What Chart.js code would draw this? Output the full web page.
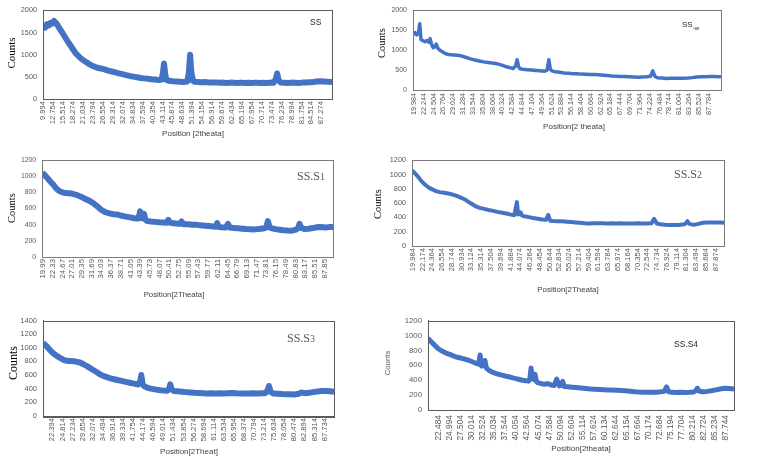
<!DOCTYPE html>
<html>
<head>
<meta charset="utf-8">
<script src="https://cdn.jsdelivr.net/npm/chart.js@4.4.1/dist/chart.umd.min.js"></script>
<style>
html,body{margin:0;padding:0;background:#ffffff;}
#wrap{position:relative;width:772px;height:464px;overflow:hidden;background:#ffffff;}
#wrap canvas{position:absolute;}
</style>
</head>
<body>
<div id="wrap">
<canvas id="p1"></canvas>
<canvas id="p2"></canvas>
<canvas id="p3"></canvas>
<canvas id="p4"></canvas>
<canvas id="p5"></canvas>
<canvas id="p6"></canvas>
</div>
<script>
// ---------- Panel SS ----------
const ssX = [
  9.9, 10.5, 11, 11.5, 12, 12.5, 13, 13.5, 14, 14.5,
  15, 16, 17, 18, 19, 20, 21, 22, 23, 24,
  25, 26, 27, 28, 29, 30, 31, 32, 33, 34,
  35, 36, 37, 38, 39, 40, 41, 42, 42.9, 43.25,
  43.55, 43.85, 44.2, 45, 46, 47, 48, 49, 50, 50.45,
  50.8, 51.15, 51.6, 52, 53, 54, 55, 56, 57, 58,
  59, 60, 61, 62, 63, 64, 65, 66, 67, 68,
  69, 70, 71, 72, 73, 74, 74.6, 75, 75.4, 76,
  77, 78, 79, 80, 81, 82, 83, 84, 85, 86,
  87, 88, 89, 90.25
];
const ssY = [
  1650, 1610, 1690, 1660, 1720, 1700, 1760, 1720, 1660, 1590,
  1530, 1400, 1270, 1150, 1030, 950, 880, 830, 775, 735,
  705, 690, 670, 640, 620, 600, 580, 560, 540, 520,
  505, 490, 475, 465, 455, 445, 440, 430, 440, 600,
  800, 580, 430, 410, 400, 395, 390, 385, 395, 600,
  1000, 600, 410, 390, 385, 380, 385, 375, 370, 375,
  365, 370, 360, 370, 365, 360, 370, 360, 365, 360,
  370, 360, 365, 360, 370, 365, 440, 575, 430, 370,
  365, 360, 370, 365, 360, 370, 375, 380, 385, 395,
  400, 395, 390, 385
];
const ssTicks = ['9.994','12.754','15.514','18.274','21.034','23.794','26.554','29.314','32.074','34.834','37.594','40.354','43.114','45.874','48.634','51.394','54.154','56.914','59.674','62.434','65.194','67.954','70.714','73.474','76.234','78.994','81.754','84.514','87.274'];

// ---------- Panel SS-w ----------
const swX = [
  19.8, 20.2, 20.6, 21, 21.3, 21.6, 22, 22.5, 23, 23.4,
  23.7, 24, 24.4, 24.8, 25.1, 25.5, 26, 26.5, 27, 27.5,
  28, 29, 30, 31, 32, 33, 34, 35, 36, 37,
  38, 39, 40, 41, 42, 42.8, 43.35, 43.7, 44.05, 44.4,
  45, 46, 47, 48, 49, 50, 50.6, 51, 51.35, 51.7,
  52.5, 53.5, 54.5, 55.5, 56.5, 57.5, 58.5, 59.5, 60.5, 61.5,
  62.5, 63.5, 64.5, 65.5, 66.5, 67.5, 68.5, 69.5, 70.5, 71.5,
  72.5, 73.5, 74.4, 74.9, 75.4, 76, 77, 78, 79, 80,
  81, 82, 83, 84, 85, 86, 87, 88, 89, 90,
  90.6
];
const swY = [
  1400, 1440, 1380, 1420, 1660, 1260, 1240, 1210, 1240, 1200,
  1290, 1150, 1060, 1080, 1150, 1040, 990, 960, 925, 900,
  890, 880, 870, 850, 815, 780, 750, 725, 705, 690,
  675, 660, 630, 590, 560, 540, 600, 760, 580, 530,
  520, 510, 500, 490, 480, 470, 500, 760, 520, 480,
  455, 445, 428, 422, 408, 407, 398, 396, 388, 386,
  380, 370, 362, 350, 346, 340, 336, 330, 326, 322,
  325, 330, 345, 480, 340, 305, 300, 290, 292, 295,
  296, 294, 300, 310, 325, 330, 335, 340, 338, 335,
  330
];
const swTicks = ['19.984','22.244','24.504','26.764','29.024','31.284','33.544','35.804','38.064','40.324','42.584','44.844','47.104','49.364','51.624','53.884','56.144','58.404','60.664','62.924','65.184','67.444','69.704','71.964','74.224','76.484','78.744','81.004','83.264','85.524','87.784'];

// ---------- Panel SS.S1 ----------
const s1X = [
  19.8, 20.5, 21, 21.5, 22, 22.5, 23, 23.5, 24, 25,
  26, 27, 28, 29, 30, 31, 32, 33, 34, 35,
  36, 37, 38, 39, 40, 41, 42, 42.8, 43.15, 43.4,
  43.7, 44.05, 44.35, 44.7, 45.2, 46, 47, 48, 49, 49.8,
  50.2, 50.6, 51, 52, 53, 53.4, 53.8, 55, 56, 57,
  58, 59, 60, 61, 61.7, 62, 62.3, 63, 64, 64.6,
  65, 66, 67, 68, 69, 70, 71, 72, 73, 73.8,
  74.2, 74.6, 75, 76, 77, 78, 79, 80, 81, 81.5,
  81.85, 82.3, 83, 84, 85, 86, 87, 88, 89, 89.9
];
const s1Y = [
  1045, 1010, 980, 950, 920, 895, 860, 835, 815, 795,
  790, 785, 770, 750, 725, 700, 670, 630, 585, 555,
  540, 530, 525, 510, 500, 490, 480, 475, 510, 565,
  480, 490, 535, 460, 445, 440, 435, 430, 428, 425,
  460, 425, 420, 415, 410, 440, 405, 405, 400, 398,
  392, 388, 383, 378, 375, 420, 372, 368, 365, 410,
  365, 360, 355, 350, 346, 344, 342, 346, 352, 365,
  445, 370, 358, 345, 338, 332, 328, 326, 340, 360,
  410, 360, 346, 350, 358, 368, 372, 366, 370, 372
];
const s1Ticks = ['19.99','22.33','24.67','27.01','29.35','31.69','34.03','36.37','38.71','41.05','43.39','45.73','48.07','50.41','52.75','55.09','57.43','59.77','62.11','64.45','66.79','69.13','71.47','73.81','76.15','78.49','80.83','83.17','85.51','87.85'];

// ---------- Panel SS.S2 ----------
const s2X = [
  19.85, 20.3, 20.7, 21.2, 21.8, 22.4, 23, 23.7, 24.5, 25.2,
  26, 27, 28, 29, 30, 31, 32, 33, 34, 35,
  36, 37, 38, 39, 40, 41, 42, 42.75, 43.05, 43.35,
  43.6, 43.9, 44.2, 44.5, 45, 46, 47, 48, 49, 49.9,
  50.35, 50.8, 51.5, 52.5, 53.5, 54.5, 55.5, 56.5, 57.5, 58.5,
  59.5, 60.5, 61.5, 62.5, 63.5, 64.5, 65.5, 66.5, 67.5, 68.5,
  69.5, 70.5, 71.5, 72.5, 73.5, 74.1, 74.7, 75.5, 76.5, 77.5,
  78.5, 79.5, 80.5, 81.1, 81.55, 82, 83, 84, 85, 86,
  87, 88, 89, 89.75
];
const s2Y = [
  1060, 1030, 1005, 970, 920, 880, 848, 815, 790, 770,
  755, 745, 735, 720, 698, 672, 640, 598, 560, 535,
  520, 505, 492, 478, 466, 455, 440, 432, 520, 615,
  440, 450, 470, 425, 416, 405, 392, 382, 372, 368,
  435, 355, 350, 348, 346, 340, 335, 330, 326, 320,
  316, 318, 320, 320, 316, 318, 316, 318, 314, 316,
  315, 318, 314, 316, 320, 380, 315, 305, 298, 294,
  295, 294, 300, 310, 348, 310, 296, 310, 325, 328,
  330, 330, 328, 326
];
const s2Ticks = ['19.984','22.174','24.364','26.554','28.744','30.934','33.124','35.314','37.504','39.694','41.884','44.074','46.264','48.454','50.644','52.834','55.024','57.214','59.404','61.594','63.784','65.974','68.164','70.354','72.544','74.734','76.924','79.114','81.304','83.494','85.684','87.874'];

// ---------- Panel SS.S3 ----------
const s3X = [
  20.15, 20.6, 21, 21.5, 22, 22.5, 23, 23.5, 24, 24.6,
  25.2, 26, 27, 28, 29, 30, 31, 32, 33, 34,
  35, 36, 37, 38, 39, 40, 41, 42, 43, 43.45,
  43.75, 44.05, 44.4, 45, 46, 47, 48, 49, 50, 50.4,
  50.7, 51, 51.5, 52.5, 53.5, 54.5, 55.5, 56.5, 57.5, 58.5,
  59.5, 60.5, 61.5, 62.5, 63.5, 64.5, 65.5, 66.5, 67.5, 68.5,
  69.5, 70.5, 71.5, 72.5, 73.5, 74.1, 74.4, 74.8, 75.5, 76.5,
  77.5, 78.5, 79.5, 80.5, 81.5, 82.2, 83, 84, 85, 86,
  87, 88, 89, 90
];
const s3Y = [
  1075, 1045, 1025, 990, 955, 925, 900, 880, 860, 840,
  820, 808, 805, 798, 785, 755, 720, 682, 645, 605,
  580, 560, 542, 528, 515, 500, 488, 475, 462, 500,
  600, 470, 438, 420, 402, 390, 380, 372, 370, 395,
  465, 390, 368, 362, 356, 350, 345, 340, 338, 334,
  331, 332, 330, 332, 331, 334, 336, 332, 330, 331,
  330, 332, 330, 332, 335, 380, 440, 350, 330, 326,
  322, 320, 318, 316, 325, 345, 335, 340, 350, 360,
  365, 368, 362, 355
];
const s3Ticks = ['22.394','24.814','27.234','29.654','32.074','34.494','36.914','39.334','41.754','44.174','46.594','49.014','51.434','53.854','56.274','58.694','61.114','63.534','65.954','68.374','70.794','73.214','75.634','78.054','80.474','82.894','85.314','87.734'];

// ---------- Panel SS.S4 ----------
const s4X = [
  20, 20.5, 21, 21.6, 22.2, 22.8, 23.4, 24.1, 24.9, 25.6,
  26.4, 27.2, 27.9, 28.7, 29.5, 30.2, 31, 31.5, 31.85, 32.2,
  32.6, 32.95, 33.3, 34, 34.8, 35.5, 36.3, 37, 37.8, 38.6,
  39.3, 40, 40.8, 41.5, 42.3, 42.9, 43.2, 43.45, 43.75, 44.05,
  44.35, 44.7, 45, 45.8, 46.5, 47.2, 48, 48.7, 49.3, 49.9,
  50.3, 50.65, 51, 51.8, 52.8, 53.7, 54.8, 55.9, 57, 58,
  59, 60, 61, 62, 63, 64, 65, 66, 67, 68,
  69, 70, 71, 72, 73, 73.8, 74.3, 74.8, 75.5, 76.5,
  77.5, 78.5, 79.5, 80.5, 81, 81.3, 81.7, 82.4, 83.5, 84.5,
  85.5, 86.5, 87.5, 88.5, 89.65
];
const s4Y = [
  965, 930, 900, 865, 830, 805, 786, 765, 748, 730,
  712, 702, 690, 678, 662, 645, 625, 615, 740, 590,
  600, 665, 560, 528, 505, 490, 475, 465, 453, 443,
  432, 422, 410, 400, 392, 388, 430, 565, 420, 410,
  480, 380, 367, 355, 345, 355, 337, 330, 415, 324,
  330, 385, 315, 311, 306, 302, 295, 289, 283, 279,
  276, 273, 270, 268, 265, 262, 259, 252, 246, 242,
  240, 238, 237, 240, 244, 250, 310, 245, 237, 236,
  237, 236, 237, 242, 260, 292, 255, 246, 250, 258,
  270, 282, 292, 288, 281
];
const s4Ticks = ['22.484','24.994','27.504','30.014','32.524','35.034','37.544','40.054','42.564','45.074','47.584','50.094','52.604','55.114','57.624','60.134','62.644','65.154','67.664','70.174','72.684','75.194','77.704','80.214','82.724','85.234','87.744'];

// ---------- Layout / styling ----------
const SANS = 'Liberation Sans';
const SERIF = 'Liberation Serif';
const LINE = '#4472C4';

const panels = [
  { id:'p1', xs:ssX, ys:ssY, ticks:ssTicks, xmin:9.9, xmax:90.25, ymax:2000, ystep:500,
    box:{x:0,y:0,w:386,h:150}, plot:{l:43,t:8,r:332,b:99}, lw:6, xFont:7.6, yFont:7.3, xPad:2, frame:'#5a5a5a',
    texts:[
      {text:'Position [2theata]', x:193, y:134, font:'8px '+SANS, color:'#404040'},
      {text:'Counts', x:12, y:53, font:'11px '+SERIF, color:'#000000', rot:true},
      {text:'SS', x:310, y:23, font:'8.5px '+SANS, color:'#262626', align:'left'}
    ]},
  { id:'p2', xs:swX, ys:swY, ticks:swTicks, xmin:19.75, xmax:90.6, ymax:2000, ystep:500,
    box:{x:366,y:0,w:406,h:150}, plot:{l:413,t:8,r:721,b:90}, lw:3.5, xFont:7.2, yFont:7, xPad:3, frame:'#7a7a7a',
    texts:[
      {text:'Position[2 theata]', x:574, y:127, font:'8px '+SANS, color:'#404040'},
      {text:'Counts', x:382, y:43, font:'10.5px '+SERIF, color:'#000000', rot:true},
      {text:'SS', x:682, y:25, font:'8px '+SANS, color:'#262626', align:'left',
       sub:{text:'-w', font:'6px '+SANS, dy:3}}
    ]},
  { id:'p3', xs:s1X, ys:s1Y, ticks:s1Ticks, xmin:19.75, xmax:89.9, ymax:1200, ystep:200,
    box:{x:0,y:150,w:386,h:160}, plot:{l:42,t:158,r:333,b:257}, lw:6, xFont:7.8, yFont:6.8, xPad:2, frame:'#7a7a7a',
    texts:[
      {text:'Position[2Theata]', x:174, y:295, font:'7.8px '+SANS, color:'#404040'},
      {text:'Counts', x:12, y:208, font:'10.5px '+SERIF, color:'#000000', rot:true},
      {text:'SS.S', x:297, y:177, font:'12px '+SERIF, color:'#595959', align:'left',
       sub:{text:'1', font:'10px '+SERIF, dy:0.5}}
    ]},
  { id:'p4', xs:s2X, ys:s2Y, ticks:s2Ticks, xmin:19.83, xmax:89.75, ymax:1200, ystep:200,
    box:{x:366,y:150,w:406,h:160}, plot:{l:412,t:157,r:724,b:246}, lw:4, xFont:7.6, yFont:7.3, xPad:2, frame:'#7a7a7a',
    texts:[
      {text:'Position[2Theata]', x:568, y:290, font:'7.9px '+SANS, color:'#404040'},
      {text:'Counts', x:378, y:204, font:'10.5px '+SERIF, color:'#000000', rot:true},
      {text:'SS.S', x:674, y:175, font:'12px '+SERIF, color:'#595959', align:'left',
       sub:{text:'2', font:'10px '+SERIF, dy:0.5}}
    ]},
  { id:'p5', xs:s3X, ys:s3Y, ticks:s3Ticks, xmin:20.15, xmax:90, ymax:1400, ystep:200,
    box:{x:0,y:310,w:386,h:154}, plot:{l:43,t:317,r:334,b:416}, lw:6, xFont:7.6, yFont:7.5, xPad:2, frame:'#5a5a5a',
    texts:[
      {text:'Position[2Theat]', x:189, y:452, font:'8px '+SANS, color:'#404040'},
      {text:'Counts', x:14, y:363, font:'12px '+SERIF, color:'#000000', rot:true},
      {text:'SS.S', x:287, y:339, font:'12px '+SERIF, color:'#595959', align:'left',
       sub:{text:'3', font:'10px '+SERIF, dy:0.5}}
    ]},
  { id:'p6', xs:s4X, ys:s4Y, ticks:s4Ticks, xmin:19.99, xmax:89.65, ymax:1200, ystep:200,
    box:{x:366,y:310,w:406,h:154}, plot:{l:428,t:317,r:734,b:410}, lw:5, xFont:8.4, yFont:7.8, xPad:5, frame:'#5a5a5a',
    texts:[
      {text:'Position[2theata]', x:581, y:449, font:'8px '+SANS, color:'#404040'},
      {text:'Counts', x:388, y:363, font:'7.8px '+SANS, color:'#595959', rot:true},
      {text:'SS.S4', x:674, y:345, font:'8.5px '+SANS, color:'#262626', align:'left'}
    ]}
];

Chart.defaults.font.family = SANS;

function makeChart(p) {
  const cv = document.getElementById(p.id);
  cv.width = p.box.w; cv.height = p.box.h;
  cv.style.left = p.box.x + 'px';
  cv.style.top = p.box.y + 'px';
  cv.style.width = p.box.w + 'px';
  cv.style.height = p.box.h + 'px';
  const padTop = p.plot.t - p.box.y;
  const padRight = p.box.x + p.box.w - p.plot.r;
  const yW = p.plot.l - p.box.x;
  const xH = p.box.y + p.box.h - p.plot.b;

  const deco = {
    id: 'deco',
    afterDraw(chart) {
      const ctx = chart.ctx, a = chart.chartArea;
      ctx.save();
      ctx.strokeStyle = p.frame;
      ctx.lineWidth = 1;
      ctx.strokeRect(Math.round(a.left) + 0.5, Math.round(a.top) + 0.5,
                     Math.round(a.right - a.left), Math.round(a.bottom - a.top));
      p.texts.forEach(t => {
        ctx.save();
        ctx.font = t.font;
        ctx.fillStyle = t.color;
        ctx.textAlign = t.align || 'center';
        ctx.textBaseline = 'middle';
        ctx.translate(t.x - p.box.x, t.y - p.box.y);
        if (t.rot) ctx.rotate(-Math.PI / 2);
        ctx.fillText(t.text, 0, 0);
        if (t.sub) {
          const w = ctx.measureText(t.text).width;
          ctx.font = t.sub.font;
          ctx.textAlign = 'left';
          ctx.fillText(t.sub.text, w, t.sub.dy);
        }
        ctx.restore();
      });
      ctx.restore();
    }
  };

  return new Chart(cv, {
    type: 'line',
    data: {
      datasets: [{
        data: p.xs.map((x, i) => ({x: x, y: p.ys[i]})),
        borderColor: LINE,
        borderWidth: p.lw,
        pointRadius: 0,
        tension: 0,
        fill: false,
        borderJoinStyle: 'round'
      }]
    },
    options: {
      responsive: false,
      animation: false,
      devicePixelRatio: 1,
      layout: { padding: { top: padTop, right: padRight, left: 0, bottom: 0 } },
      plugins: { legend: { display: false }, tooltip: { enabled: false } },
      scales: {
        x: {
          type: 'linear',
          min: p.xmin, max: p.xmax,
          afterBuildTicks: s => { s.ticks = p.ticks.map(v => ({ value: parseFloat(v) })); },
          afterFit: s => { s.height = xH; },
          ticks: {
            autoSkip: false, minRotation: 90, maxRotation: 90, padding: p.xPad,
            color: '#595959', font: { family: SANS, size: p.xFont },
            callback: (v, i) => p.ticks[i]
          },
          grid: { display: false, drawTicks: false },
          border: { display: true, color: p.frame, width: 1 }
        },
        y: {
          min: 0, max: p.ymax,
          afterFit: s => { s.width = yW; },
          ticks: { stepSize: p.ystep, padding: 6, color: '#595959',
                   font: { family: SANS, size: p.yFont },
                   callback: v => String(v) },
          grid: { display: false, drawTicks: false },
          border: { display: true, color: p.frame, width: 1 }
        }
      }
    },
    plugins: [deco]
  });
}

panels.forEach(makeChart);
</script>
</body>
</html>
